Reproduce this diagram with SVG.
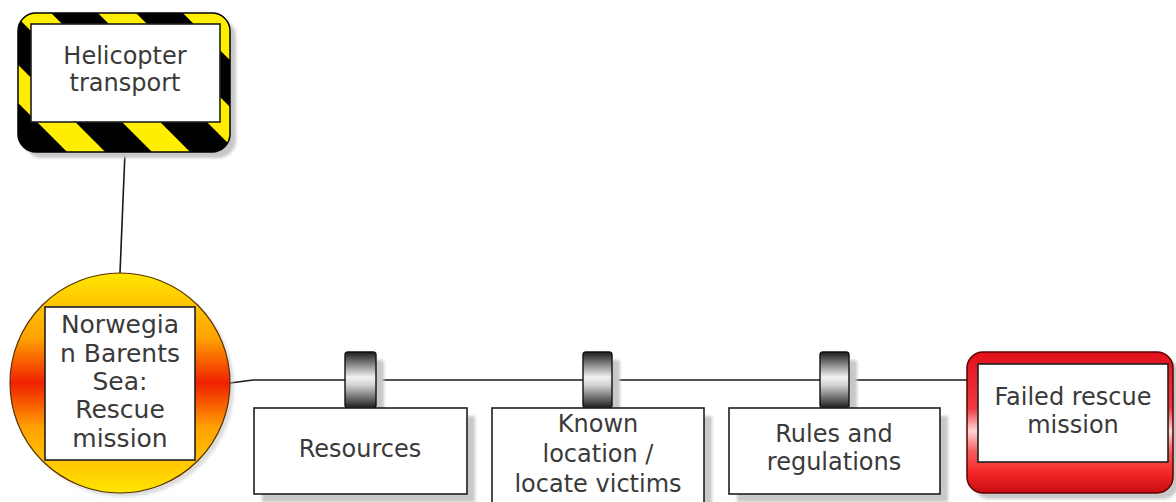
<svg xmlns="http://www.w3.org/2000/svg" width="1176" height="502" viewBox="0 0 1176 502">
  <style>
    .lbl { font-family: "DejaVu Sans", Verdana, sans-serif; font-size: 24px; fill: #3a3a3a; text-anchor: middle; }
    .box { fill: #ffffff; stroke: #1e1e1e; stroke-width: 1.6; }
    .shadow { fill: #c8c8c8; filter: url(#soft); }
    .conn { fill: none; stroke: #1a1a1a; stroke-width: 1.6; }
    .tab { fill: url(#barrel); stroke: #111; stroke-width: 1.4; }
  </style>
  <defs>
    <filter id="soft" x="-10%" y="-10%" width="130%" height="130%">
      <feGaussianBlur stdDeviation="1.5"/>
    </filter>
    <pattern id="hazard" patternUnits="userSpaceOnUse" width="60" height="60" patternTransform="rotate(-45)">
      <rect width="60" height="60" fill="#000"/>
      <rect width="27" height="60" fill="#ffee00"/>
    </pattern>
    <linearGradient id="sun" x1="0" y1="0" x2="0" y2="1">
      <stop offset="0" stop-color="#ffe600"/>
      <stop offset="0.3" stop-color="#ffa000"/>
      <stop offset="0.5" stop-color="#f02000"/>
      <stop offset="0.7" stop-color="#ffa000"/>
      <stop offset="1" stop-color="#ffe600"/>
    </linearGradient>
    <linearGradient id="alarm" x1="0" y1="0" x2="0" y2="1">
      <stop offset="0" stop-color="#e2101a"/>
      <stop offset="0.4" stop-color="#ee3a44"/>
      <stop offset="0.56" stop-color="#ffd6d6"/>
      <stop offset="0.7" stop-color="#f46060"/>
      <stop offset="0.85" stop-color="#f42828"/>
      <stop offset="1" stop-color="#c80c10"/>
    </linearGradient>
    <linearGradient id="barrel" x1="0" y1="0" x2="0" y2="1">
      <stop offset="0" stop-color="#1c1c1c"/>
      <stop offset="0.45" stop-color="#f2f2f2"/>
      <stop offset="0.6" stop-color="#cfcfcf"/>
      <stop offset="1" stop-color="#1c1c1c"/>
    </linearGradient>
  </defs>

  <!-- connectors -->
  <g id="connectors">
    <path class="conn" d="M125 152 L120 273"/>
    <path class="conn" d="M230 383 L253 380 L968 380"/>
  </g>

  <!-- hazard node -->
  <g id="helicopter-transport">
    <rect class="shadow" x="24" y="19" width="212" height="139" rx="18"/>
    <rect x="18" y="13" width="212" height="139" rx="18" fill="url(#hazard)" stroke="#000" stroke-width="1.5"/>
    <rect class="box" x="31" y="24" width="189" height="98"/>
    <text class="lbl" x="125" y="64">Helicopter</text>
    <text class="lbl" x="125" y="91">transport</text>
  </g>

  <!-- top event -->
  <g id="top-event">
    <circle cx="124" cy="387" r="110" fill="#bbbbbb" opacity="0.5" filter="url(#soft)"/>
    <circle cx="120" cy="383" r="110" fill="url(#sun)" stroke="#5a3000" stroke-width="1.2"/>
    <rect class="box" x="45" y="307" width="150" height="153"/>
    <text class="lbl" style="font-size:25px" x="120" y="333">Norwegia</text>
    <text class="lbl" style="font-size:25px" x="120" y="362">n Barents</text>
    <text class="lbl" style="font-size:25px" x="120" y="390">Sea:</text>
    <text class="lbl" style="font-size:25px" x="120" y="418">Rescue</text>
    <text class="lbl" style="font-size:25px" x="120" y="447">mission</text>
  </g>

  <!-- barriers -->
  <g id="barrier-resources">
    <rect class="shadow" x="353" y="360" width="31" height="56" rx="3"/>
    <rect class="tab" x="345" y="352" width="31" height="56" rx="3"/>
    <rect class="shadow" x="262" y="416" width="213" height="86"/>
    <rect class="box" x="254" y="408" width="213" height="86"/>
    <text class="lbl" x="360" y="457">Resources</text>
  </g>

  <g id="barrier-location">
    <rect class="shadow" x="591" y="360" width="29" height="56" rx="3"/>
    <rect class="tab" x="583" y="352" width="29" height="56" rx="3"/>
    <rect class="shadow" x="500" y="416" width="212" height="100"/>
    <rect class="box" x="492" y="408" width="212" height="100"/>
    <text class="lbl" x="598" y="432">Known</text>
    <text class="lbl" x="598" y="462">location /</text>
    <text class="lbl" x="598" y="492">locate victims</text>
  </g>

  <g id="barrier-rules">
    <rect class="shadow" x="828" y="360" width="29" height="56" rx="3"/>
    <rect class="tab" x="820" y="352" width="29" height="56" rx="3"/>
    <rect class="shadow" x="737" y="416" width="211" height="86"/>
    <rect class="box" x="729" y="408" width="211" height="86"/>
    <text class="lbl" x="834" y="442">Rules and</text>
    <text class="lbl" x="834" y="470">regulations</text>
  </g>

  <!-- consequence -->
  <g id="failed-rescue">
    <rect class="shadow" x="973" y="358" width="206" height="141" rx="16"/>
    <rect x="967" y="352" width="206" height="141" rx="16" fill="url(#alarm)" stroke="#5a0000" stroke-width="1.5"/>
    <rect class="box" x="978" y="364" width="190" height="98"/>
    <text class="lbl" x="1073" y="405">Failed rescue</text>
    <text class="lbl" x="1073" y="433">mission</text>
  </g>
</svg>
